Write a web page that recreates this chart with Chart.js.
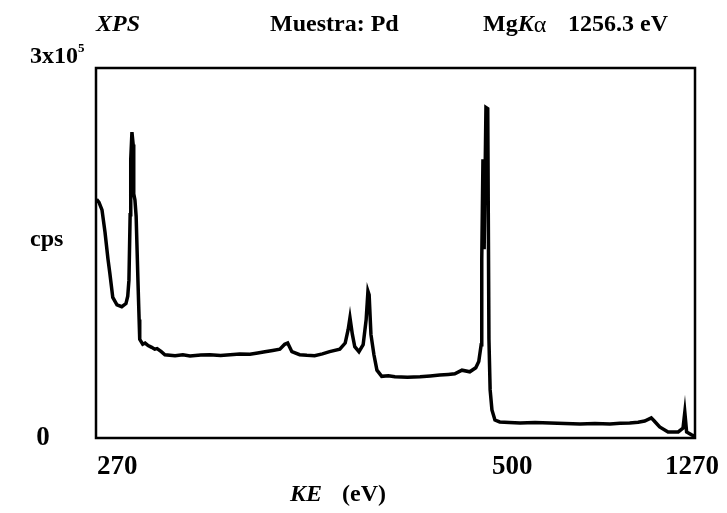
<!DOCTYPE html>
<html>
<head>
<meta charset="utf-8">
<script src="https://cdn.jsdelivr.net/npm/chart.js@4"></script>
<style>
  html, body { margin: 0; padding: 0; background: #fff; }
  canvas { display: block; }
</style>
</head>
<body>
<canvas id="xps" width="727" height="513"></canvas>
<script>
// kinetic energy (eV) and counts per second
const keV = [271, 275, 280, 285, 290, 293, 298, 305, 313, 320, 323, 325, 327, 328, 330, 332, 333, 335, 337,
  340, 342, 343, 348, 352, 357, 363, 368, 372, 379, 385, 402, 415, 427, 445, 460, 478, 494, 510, 527, 540, 552,
  565, 577, 585, 590, 597, 610, 622, 635, 648, 660,
  677, 686, 691, 694, 698, 702, 709, 716, 721, 724, 726, 729, 734, 739, 747, 758, 769, 790, 811, 828, 844, 858,
  869, 881, 894,
  904, 909, 913, 914, 916, 918, 921, 924, 926, 928, 931, 936, 944, 960, 978, 1003, 1028, 1053, 1078, 1103, 1128,
  1145, 1161, 1175, 1186, 1197,
  1202, 1211, 1225, 1242, 1250, 1253, 1256, 1265, 1270];
const cps = [193500, 191000, 185000, 167000, 145000, 134000, 114000, 108000, 106500, 109000, 115000, 128000,
  181000, 226000, 248000, 238000, 198000, 193000, 180000,
  128000, 96000, 80000, 76000, 77000, 75000, 73500, 72000, 72500, 70000, 67500, 66700, 67400, 66500, 67200,
  67500, 66800, 67500, 68200, 68000, 69000, 70000,
  71000, 72000, 76000, 77000, 70000, 67500, 67000, 66700, 68200, 70000,
  72000, 77000, 88000, 97500, 84000, 74000, 70000, 75600, 96000, 119000, 116000, 84000, 67500, 55000, 50000,
  50500, 49600, 49200, 49600, 50300, 51000, 51500,
  52000, 55000, 53700,
  57000, 62000, 75600, 145000, 226000, 153000, 268000, 267000, 80000, 39000, 22800, 14600, 13000, 12600,
  12200, 12500, 12200, 11700, 11400, 11800, 11400,
  11900, 12200, 12800, 13800, 16300,
  13800, 9000, 4900, 4900, 8000, 21000, 4900, 2400, 1600];

const xTickValues = [270, 970, 1270];
const xTickLabels = ['270', '500', '1270'];
const yTickValues = [0, 300000];

const serif = '"Liberation Serif", "DejaVu Serif", serif';

const frameAndText = {
  id: 'frameAndText',
  afterDraw(chart) {
    const { ctx, chartArea: a, scales: { x, y } } = chart;
    ctx.save();
    ctx.strokeStyle = '#000';
    ctx.lineWidth = 2.5;
    ctx.strokeRect(a.left, a.top, a.right - a.left, a.bottom - a.top);

    ctx.fillStyle = '#000';
    ctx.textBaseline = 'middle';
    const put = (txt, px, py, font, align) => {
      ctx.font = font;
      ctx.textAlign = align || 'left';
      ctx.fillText(txt, px, py);
      return ctx.measureText(txt).width;
    };
    const B = 'bold 24px ' + serif;
    const BI = 'italic bold 24px ' + serif;
    const T = 'bold 27px ' + serif;

    // header
    put('XPS', 96, 25, BI);
    put('Muestra: Pd', 270, 25, B);
    let px = 483;
    px += put('Mg', px, 25, B);
    px += put('K', px, 25, BI);
    put('\u03b1', px, 26, '24px ' + serif);
    put('1256.3 eV', 568, 25, B);

    // y labels
    const y0 = y.getPixelForValue(yTickValues[0]);
    put('0', 43, y0, T, 'center');
    const yTop = y.getPixelForValue(yTickValues[1]) - 11;
    const w = put('3x10', 30, yTop, B);
    put('5', 30 + w, yTop - 8, 'bold 13px ' + serif);
    put('cps', 30, 240, B);

    // x labels
    xTickValues.forEach((v, i) => {
      const p = x.getPixelForValue(v);
      put(xTickLabels[i], i === 0 ? p + 1 : p - 3, 467, T, i === 0 ? 'left' : 'center');
    });
    put('KE', 290, 495, BI);
    put('(eV)', 342, 495, B);
    ctx.restore();
  }
};

new Chart(document.getElementById('xps'), {
  type: 'line',
  data: {
    datasets: [{
      data: keV.map((k, i) => ({ x: k, y: cps[i] })),
      borderColor: '#000',
      borderWidth: 3.5,
      pointRadius: 0,
      tension: 0,
      fill: false
    }]
  },
  options: {
    responsive: false,
    animation: false,
    layout: { padding: { left: 96, top: 68, right: 32, bottom: 75 } },
    plugins: { legend: { display: false }, tooltip: { enabled: false } },
    scales: {
      x: { type: 'linear', min: 270, max: 1270, display: false },
      y: { min: 0, max: 300000, display: false }
    }
  },
  plugins: [frameAndText]
});
</script>
</body>
</html>
